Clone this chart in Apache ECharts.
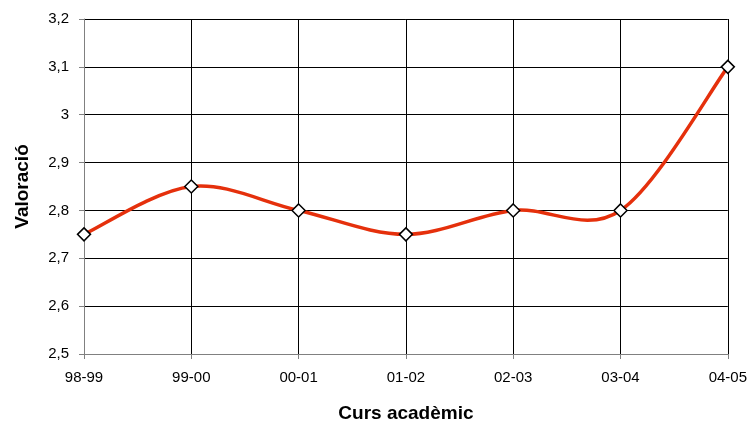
<!DOCTYPE html>
<html><head><meta charset="utf-8">
<script src="https://cdn.jsdelivr.net/npm/echarts@6/dist/echarts.min.js"></script>
<style>html,body{margin:0;padding:0;background:#fff}#c{width:750px;height:428px}</style>
</head><body><div id="c"></div>
<script>
var categories = ['98-99','99-00','00-01','01-02','02-03','03-04','04-05'];
var values = [2.75, 2.85, 2.80, 2.75, 2.80, 2.80, 3.10];

var LINE_COLOR = '#e5300c';
function renderCurve(params, api){
  if (params.dataIndex !== 0) return null;
  var pts = values.map(function(v,i){ return api.coord([i, v]); });
  var n = pts.length, children = [];
  for (var i = 0; i < n - 1; i++){
    var p0 = pts[Math.max(i-1,0)], p1 = pts[i], p2 = pts[i+1], p3 = pts[Math.min(i+2,n-1)];
    children.push({
      type:'bezierCurve',
      shape:{
        x1:p1[0], y1:p1[1], x2:p2[0], y2:p2[1],
        cpx1:p1[0] + (p2[0]-p0[0])/6, cpy1:p1[1] + (p2[1]-p0[1])/6,
        cpx2:p2[0] - (p3[0]-p1[0])/6, cpy2:p2[1] - (p3[1]-p1[1])/6
      },
      style:{stroke:LINE_COLOR, lineWidth:3.5, fill:null, lineCap:'round'}
    });
  }
  return {type:'group', children:children};
}

var chart = echarts.init(document.getElementById('c'), null, {renderer:'canvas'});
chart.setOption({
  animation:false,
  backgroundColor:'#fff',
  grid:{left:84,right:21,top:19,bottom:73,containLabel:false},
  xAxis:{
    type:'category', data:categories, boundaryGap:false,
    name:'Curs acadèmic', nameLocation:'middle', nameGap:50,
    nameTextStyle:{fontFamily:'Liberation Sans',fontWeight:'bold',fontSize:19,color:'#000'},
    axisLine:{lineStyle:{color:'#808080',width:1}},
    axisTick:{show:true,length:5,lineStyle:{color:'#808080'}},
    axisLabel:{fontFamily:'Liberation Sans',fontSize:15,color:'#000',margin:16},
    splitLine:{show:true,lineStyle:{color:'#000',width:1}}
  },
  yAxis:{
    type:'value', min:2.5, max:3.2, interval:0.1,
    name:'Valoració', nameLocation:'middle', nameGap:52, nameRotate:90,
    nameTextStyle:{fontFamily:'Liberation Sans',fontWeight:'bold',fontSize:19,color:'#000'},
    axisLine:{show:true,lineStyle:{color:'#808080',width:1}},
    axisTick:{show:true,length:5,lineStyle:{color:'#808080'}},
    axisLabel:{fontFamily:'Liberation Sans',fontSize:15,color:'#000',margin:15,
      formatter:function(v){return (Math.round(v*10)/10).toString().replace('.',',');}},
    splitLine:{show:true,lineStyle:{color:'#000',width:1}}
  },
  series:[{
    type:'custom', data:values.map(function(v,i){return [i,v];}),
    renderItem:renderCurve, z:2, silent:true
  },{
    type:'line', data:values,
    lineStyle:{width:0, opacity:0},
    symbol:'diamond', symbolSize:[13,13],
    itemStyle:{color:'#fff',borderColor:'#000',borderWidth:1.5},
    z:3
  }]
});
</script></body></html>
